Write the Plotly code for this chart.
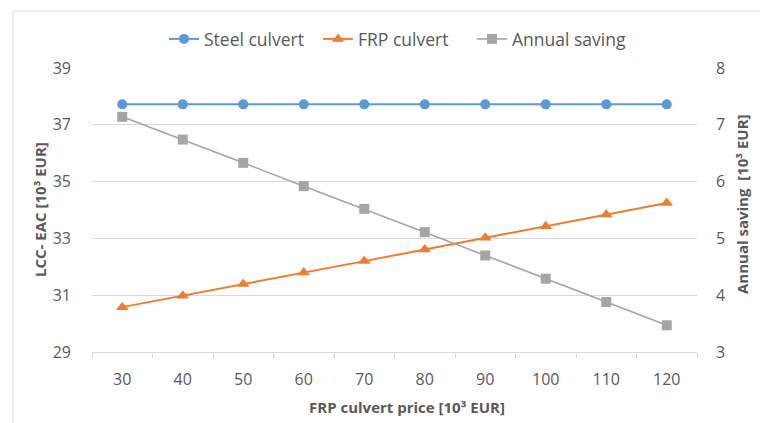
import plotly.graph_objects as go

prices = ["30", "40", "50", "60", "70", "80", "90", "100", "110", "120"]
steel = [37.72, 37.72, 37.72, 37.72, 37.72, 37.72, 37.72, 37.72, 37.72, 37.72]
frp = [30.58, 30.98, 31.39, 31.80, 32.20, 32.61, 33.02, 33.43, 33.84, 34.25]
saving = [7.14, 6.74, 6.33, 5.92, 5.52, 5.11, 4.70, 4.29, 3.88, 3.47]

FONT = "Open Sans"
TXT = "#595959"

fig = go.Figure()
fig.add_trace(go.Scatter(x=prices, y=steel, name="Steel culvert", mode="lines+markers",
                         line=dict(color="#5B9BD5", width=2),
                         marker=dict(symbol="circle", size=10, color="#5B9BD5")))
fig.add_trace(go.Scatter(x=prices, y=frp, name="FRP culvert", mode="lines+markers",
                         line=dict(color="#ED7D31", width=2),
                         marker=dict(symbol="triangle-up", size=11, color="#ED7D31")))
fig.add_trace(go.Scatter(x=prices, y=saving, name="Annual saving", mode="lines+markers",
                         yaxis="y2",
                         line=dict(color="#A5A5A5", width=1.6),
                         marker=dict(symbol="square", size=10, color="#A5A5A5")))

fig.update_layout(
    width=760, height=423,
    margin=dict(l=92, r=63, t=68, b=71, autoexpand=False),
    paper_bgcolor="white", plot_bgcolor="white",
    font=dict(family=FONT, size=16, color=TXT),
    showlegend=True,
    legend=dict(orientation="h", x=(164 - 92) / 605, xanchor="left", y=1.102, yanchor="middle",
                font=dict(family=FONT, size=17.5, color=TXT), itemwidth=30,
                entrywidth=109, entrywidthmode="pixels",
                tracegroupgap=0, bgcolor="rgba(0,0,0,0)"),
    xaxis=dict(type="category", range=[-0.5, 9.5], showgrid=False, showline=True,
               linecolor="#d9d9d9", linewidth=1, ticks="outside", tickson="boundaries",
               ticklen=5, tickcolor="#d9d9d9", tickfont=dict(family=FONT, size=16, color=TXT),
               ticklabelstandoff=13, zeroline=False, automargin=False),
    yaxis=dict(range=[29, 39], dtick=2, tick0=29, showgrid=True, gridcolor="#d9d9d9",
               gridwidth=1, showline=False, zeroline=False, ticks="",
               tickfont=dict(family=FONT, size=16, color=TXT), ticklabelstandoff=20,
               automargin=False),
    yaxis2=dict(range=[3, 8], dtick=1, overlaying="y", side="right", showgrid=False,
                showline=False, zeroline=False, ticks="",
                tickfont=dict(family=FONT, size=16, color=TXT), ticklabelstandoff=18,
                automargin=False),
    annotations=[
        dict(text="<b>LCC- EAC [10³ EUR]</b>", xref="paper", yref="paper",
             x=(40 - 92) / 605, y=0.5, xanchor="center", yanchor="middle",
             textangle=-90, showarrow=False, font=dict(family=FONT, size=15, color=TXT)),
        dict(text="<b>Annual saving  [10³ EUR]</b>", xref="paper", yref="paper",
             x=(742 - 92) / 605, y=(352 - 204) / 284, xanchor="center", yanchor="middle",
             textangle=-90, showarrow=False, font=dict(family=FONT, size=15, color=TXT)),
        dict(text="<b>FRP culvert price [10³ EUR]</b>", xref="paper", yref="paper",
             x=(407 - 92) / 605, y=(352 - 407) / 284, xanchor="center", yanchor="middle",
             showarrow=False, font=dict(family=FONT, size=15, color=TXT)),
    ],
    shapes=[dict(type="rect", xref="paper", yref="paper",
                 x0=(13 - 92) / 605, x1=2, y0=-2, y1=(352 - 11) / 284,
                 line=dict(color="#d9d9d9", width=1), fillcolor="rgba(0,0,0,0)", layer="below")],
)

fig.write_html("out.html", config={"displayModeBar": False},
               post_script="document.body.style.margin='0';")
